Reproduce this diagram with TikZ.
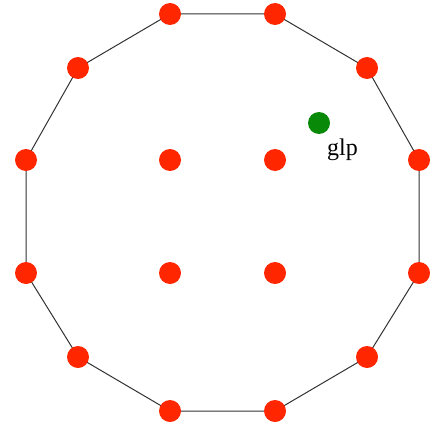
\documentclass[tikz,border=0pt]{standalone}
\usepackage{fontspec}
\setmainfont{Liberation Serif}
\definecolor{dotred}{RGB}{255,38,0}
\definecolor{dotgreen}{RGB}{8,138,8}
\definecolor{edge}{RGB}{50,50,50}
\begin{document}
\begin{tikzpicture}[x=1pt,y=-1pt,
  dot/.style={circle,fill=dotred,minimum size=22pt,inner sep=0pt},
  gdot/.style={circle,fill=dotgreen,minimum size=22pt,inner sep=0pt},
  edgeline/.style={draw=edge,line width=1pt}]
\useasboundingbox (0,0) rectangle (430,425);
\coordinate (o1) at (170,14);
\coordinate (o2) at (275,14);
\coordinate (o3) at (367,68);
\coordinate (o4) at (419,160);
\coordinate (o5) at (419,273);
\coordinate (o6) at (367,357);
\coordinate (o7) at (275,411);
\coordinate (o8) at (170,411);
\coordinate (o9) at (78,357);
\coordinate (o10) at (26,273);
\coordinate (o11) at (26,160);
\coordinate (o12) at (78,68);
\draw[edgeline] (o1) -- (o2) -- (o3) -- (o4) -- (o5) -- (o6) -- (o7) -- (o8) -- (o9) -- (o10) -- (o11) -- (o12) -- cycle;
\foreach \i in {1,...,12} \node[dot] (d\i) at (o\i) {};
\node[dot] (i1) at (170,160) {};
\node[dot] (i2) at (275,160) {};
\node[dot] (i3) at (170,273) {};
\node[dot] (i4) at (275,273) {};
\node[gdot] (g) at (319,123) {};
\node[anchor=base west,inner sep=0pt,font=\fontsize{24}{24}\selectfont] (glp) at (327,155) {glp};
\end{tikzpicture}
\end{document}
